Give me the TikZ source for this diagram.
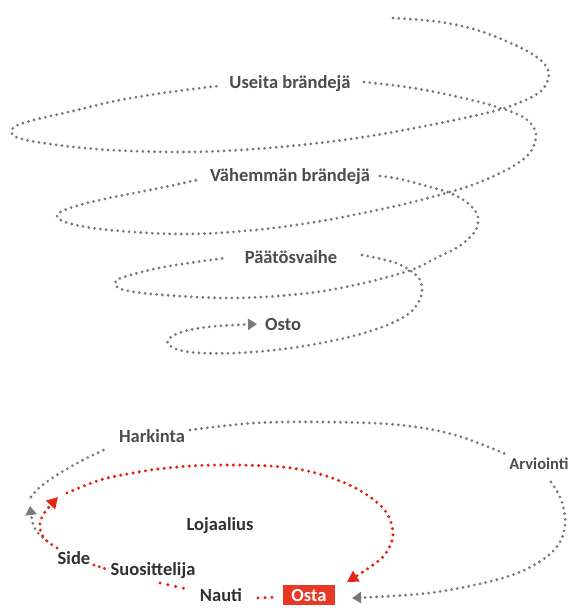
\documentclass[tikz,border=0pt]{standalone}
\usepackage{fontspec}
\setmainfont{Carlito}
\usetikzlibrary{arrows.meta}
\definecolor{gdot}{RGB}{122,122,122}
\definecolor{txtg}{RGB}{76,76,76}
\definecolor{txtd}{RGB}{48,48,48}
\definecolor{redc}{RGB}{230,36,22}
\definecolor{ostared}{RGB}{232,55,35}
\begin{document}
\begin{tikzpicture}[x=1pt,y=-1pt,
  gdots/.style={draw=gdot,line width=3.1pt,line cap=round,dash pattern=on 0pt off 5.8pt},
  rdots/.style={draw=redc,line width=3.4pt,line cap=round,dash pattern=on 0pt off 6.3pt},
  lbl/.style={font=\fontsize{18.5}{20}\selectfont\bfseries,inner sep=0pt,anchor=base,text=txtg},
  lbld/.style={lbl,text=txtd},
  gtip/.style={-{Triangle[length=9pt,width=11pt]}},
  rtip/.style={-{Triangle[length=11pt,width=12pt]}},
]
\useasboundingbox (0,0) rectangle (568,608);

% ---------- spiral ----------
\node[lbl] (useita) at (290,88) {Useita brändejä};
\node[lbl] (vahemman) at (290,181) {Vähemmän brändejä};
\node[lbl] (paatos) at (291,263) {Päätösvaihe};
\node[lbl] (osto) at (283,330) {Osto};
\coordinate (sstart) at (393,18);

\draw[gdots] plot[smooth,tension=0.6] coordinates {(sstart) (440,22) (480,31) (517,46) (538,58) (548,70) (547,82) (537,94) (505,108) (464,118) (420,127) (364,137) (300,145) (240,150) (182,152) (109,150) (50,144) (16,137) (13,128) (30,121) (73,111) (120,100) (170,92) (218,86)};

\draw[gdots] plot[smooth,tension=0.6] coordinates {(364,82) (413,88) (463,98) (497,107) (523,117) (535,130) (535,142) (528,155) (510,168) (480,182) (450,192) (400,205) (327,220) (255,230) (182,234) (109,230) (68,223) (57,215) (73,207) (109,198) (160,188) (197,180)};

\draw[gdots] plot[smooth,tension=0.6] coordinates {(380,176) (400,179) (430,187) (450,193) (465,201) (476,212) (478,223) (473,234) (458,247) (436,258) (411,270) (364,283) (309,293) (236,298) (164,295) (124,290) (115,283) (124,277) (164,267) (225,258)};

\draw[gdots,gtip] plot[smooth,tension=0.6] coordinates {(362,255) (393,262) (411,271) (420,280) (422,291) (418,303) (407,315) (382,327) (345,338) (291,348) (236,353) (189,352) (169,345) (171,337) (189,330) (218,326) (257,324)};

% ---------- loop ----------
\node[lbl] (harkinta) at (152,442) {Harkinta};
\node[lbl,font=\fontsize{16.5}{18}\selectfont\bfseries] (arviointi) at (539,469) {Arviointi};
\node[lbld] (lojaalius) at (220,530) {Lojaalius};
\node[lbld] (side) at (74,564) {Side};
\node[lbld] (suos) at (153,575) {Suosittelija};
\node[lbld] (nauti) at (221,601) {Nauti};
\node[fill=ostared,text=white,font=\fontsize{18.5}{20}\selectfont\bfseries,inner sep=0pt,minimum width=52pt,minimum height=20pt] (osta) at (309,595) {Osta};

% gray outer loop
\draw[gdots] plot[smooth,tension=0.6] coordinates {(190,430) (255,423) (327,422) (400,425) (455,435) (508,455)};
\draw[gdots,gtip] plot[smooth,tension=0.6] coordinates {(551,482) (559,495) (564,510) (565,525) (560,542) (545,558) (515,574) (470,586) (420,594) (352,598)};
\draw[gdots] plot[smooth,tension=0.6] coordinates {(31,497) (40,487) (60,473) (83,460) (108,448)};
\draw[gdots,gtip] plot[smooth,tension=0.6] coordinates {(47,541) (38,533) (33,524) (30,506)};

% red loyalty loop
\draw[rdots,rtip] plot[smooth,tension=0.6] coordinates {(57,548) (47,541) (41,533) (40,523) (45,512) (58,497)};
\draw[rdots,rtip] plot[smooth,tension=0.6] coordinates {(67,493) (100,480) (133,473) (167,468) (218,465) (291,468) (345,483) (382,507) (393,533) (386,553) (373,565) (347,582)};

% short red links
\coordinate (ss1) at (94,565); \coordinate (ss2) at (106,569);
\coordinate (sn1) at (160,583); \coordinate (sn2) at (187,589);
\coordinate (no1) at (258,598); \coordinate (no2) at (278,597);
\draw[rdots,dash pattern=on 0pt off 5.5pt] (ss1) -- (ss2);
\draw[rdots,dash pattern=on 0pt off 8pt] (sn1) -- (sn2);
\draw[rdots,dash pattern=on 0pt off 7pt] (no1) -- (no2);
\end{tikzpicture}
\end{document}
